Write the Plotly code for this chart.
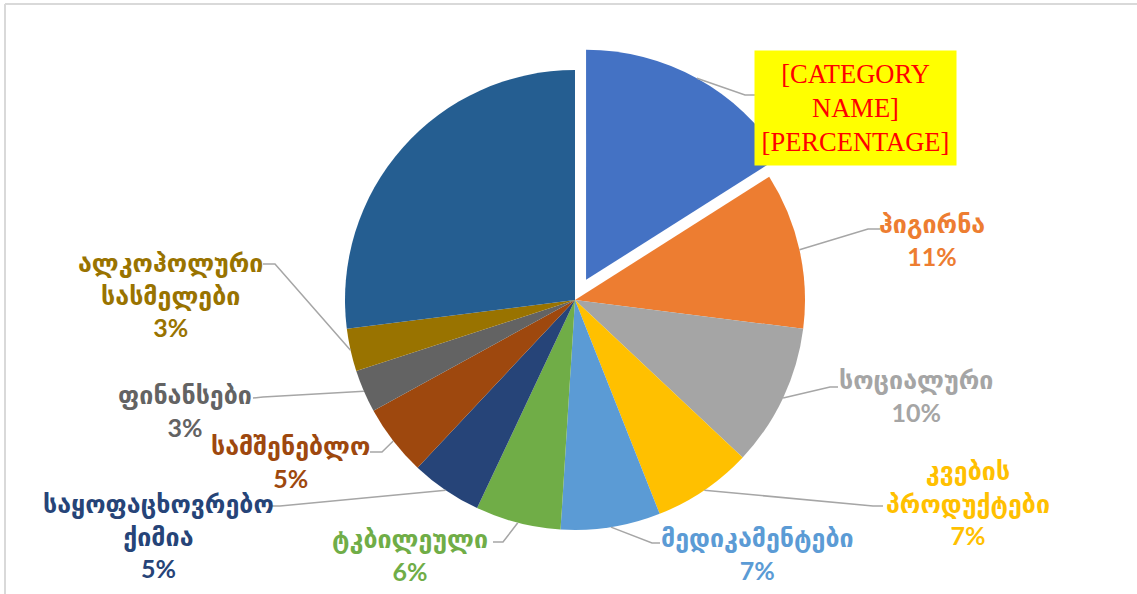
import math
import plotly.graph_objects as go

W, H = 1137, 594

# ---- data -------------------------------------------------------------
categories = [
    "[CATEGORY NAME]", "ჰიგირნა", "სოციალური", "კვების პროდუქტები",
    "მედიკამენტები", "ტკბილეული", "საყოფაცხოვრებო ქიმია", "სამშენებლო",
    "ფინანსები", "ალკოჰოლური სასმელები", "სხვა",
]
shares = [16, 11, 10, 7, 7, 6, 5, 5, 3, 3, 27]
colors = [
    "#4472C4", "#ED7D31", "#A5A5A5", "#FFC000", "#5B9BD5", "#70AD47",
    "#264478", "#9E480E", "#636363", "#997300", "#255E91",
]
pulls = [0.1, 0, 0, 0, 0, 0, 0, 0, 0, 0, 0]

# label text broken into lines (None = slice carries no label)
label_lines = [
    ["[CATEGORY", "NAME]", "[PERCENTAGE]"],
    ["ჰიგირნა"],
    ["სოციალური"],
    ["კვების", "პროდუქტები"],
    ["მედიკამენტები"],
    ["ტკბილეული"],
    ["საყოფაცხოვრებო", "ქიმია"],
    ["სამშენებლო"],
    ["ფინანსები"],
    ["ალკოჰოლური", "სასმელები"],
    None,
]

# ---- layout geometry (pixels) ------------------------------------------
CX, CY, R = 575, 300, 230
MAX_PULL = max(pulls)
BOX = R * (1 + MAX_PULL)  # half-size of the pie domain

# label block centres
label_pos = [
    (855.5, 108.5), (932, 239.5), (916, 395.5), (968, 502.5), (757, 553.5),
    (410, 554), (158, 535), (290, 461.5), (185, 410), (170, 294), None,
]
# leader line elbow and end points next to each label
leader_pts = [
    [(745, 95), (755, 95)],
    [(868, 229), (880, 229)],
    [(830, 387), (838, 387)],
    [(873, 506), (883, 506)],
    [(652, 543), (660, 543)],
    [(503, 542), (493, 542)],
    [(280, 506), (270, 506)],
    [(382, 452), (370, 452)],
    [(263, 397), (253, 398)],
    [(275, 264), (263, 264)],
    None,
]


def px(x):
    return x / W


def py(y):
    return 1 - y / H


fig = go.Figure(
    go.Pie(
        labels=categories,
        values=shares,
        marker=dict(colors=colors, line=dict(width=0)),
        pull=pulls,
        sort=False,
        direction="clockwise",
        rotation=0,
        textinfo="none",
        hoverinfo="label+percent",
        showlegend=False,
        domain=dict(x=[px(CX - BOX), px(CX + BOX)], y=[py(CY + BOX), py(CY - BOX)]),
    )
)

total = sum(shares)
shapes = []
annotations = []
cum = 0
for i, v in enumerate(shares):
    mid = (cum + v / 2) / total * 2 * math.pi
    cum += v
    if label_lines[i] is None:
        continue
    # slice centre (shifted when pulled) and point on the outer edge
    ox = CX + pulls[i] * R * math.sin(mid)
    oy = CY - pulls[i] * R * math.cos(mid)
    sx = ox + R * math.sin(mid)
    sy = oy - R * math.cos(mid)
    pts = [(sx, sy)] + leader_pts[i]
    path = "M " + " L ".join(f"{px(x)},{py(y)}" for x, y in pts)
    shapes.append(dict(type="path", xref="paper", yref="paper", path=path,
                       line=dict(color="#A6A6A6", width=1.5)))

    lx, ly = label_pos[i]
    pct = f"{v / total * 100:.0f}%"
    if i == 0:
        annotations.append(dict(
            x=px(lx), y=py(ly), xref="paper", yref="paper",
            text="<br>".join(label_lines[i]), showarrow=False,
            font=dict(family="Liberation Serif, serif", size=26.5, color="#FF0000"),
            bgcolor="#FFFF00", width=193, height=106, borderpad=4,
            align="center", xanchor="center", yanchor="middle",
        ))
    else:
        annotations.append(dict(
            x=px(lx), y=py(ly), xref="paper", yref="paper",
            text="<b>" + "<br>".join(label_lines[i] + [pct]) + "</b>",
            showarrow=False,
            font=dict(family="Lato, DejaVu Sans, sans-serif", size=25, color=colors[i]),
            align="center", xanchor="center", yanchor="middle",
        ))

# chart-area frame (top and left edges)
shapes.append(dict(type="line", xref="paper", yref="paper",
                   x0=px(5), y0=py(4), x1=px(W + 20), y1=py(4),
                   line=dict(color="#D9D9D9", width=2)))
shapes.append(dict(type="line", xref="paper", yref="paper",
                   x0=px(5), y0=py(4), x1=px(5), y1=py(H + 20),
                   line=dict(color="#D9D9D9", width=2)))

fig.update_layout(
    width=W, height=H,
    margin=dict(l=0, r=0, t=0, b=0),
    paper_bgcolor="white", plot_bgcolor="white",
    shapes=shapes, annotations=annotations,
)

fig.write_html("out.html")
